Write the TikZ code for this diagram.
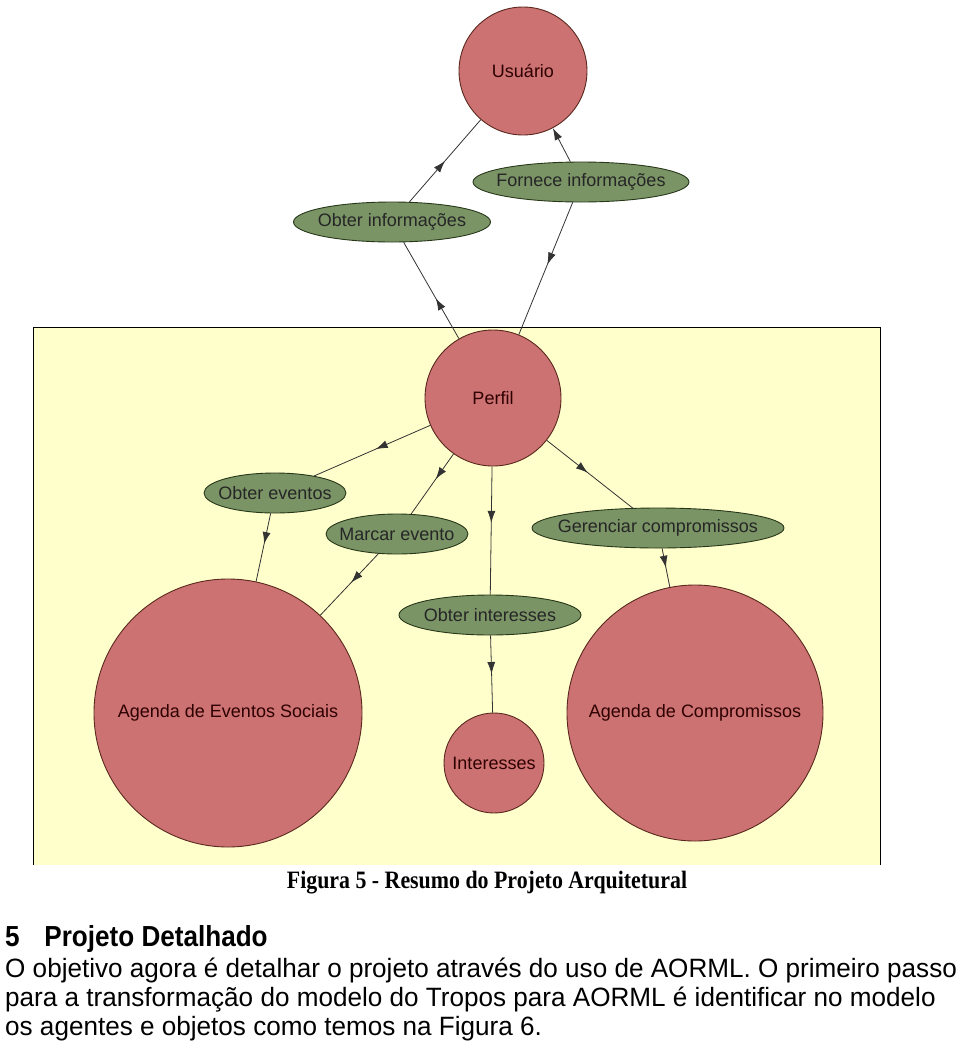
\documentclass[tikz,border=0pt]{standalone}
\usepackage{fontspec}
\usepackage{xcolor}
\usepackage{tikz}
\usetikzlibrary{positioning, arrows.meta, shapes.geometric, decorations.markings}

\setmainfont{Liberation Sans}
\newfontfamily\diagfont{Liberation Sans}
\newfontfamily\titlefont[FakeStretch=0.9]{Liberation Sans}
\newfontfamily\bodyfont[FakeStretch=0.985]{Liberation Sans}
\newfontfamily\capfont[FakeStretch=0.875]{Liberation Serif}

\definecolor{fundo}{RGB}{255,255,204}
\definecolor{ator}{RGB}{205,114,114}
\definecolor{atorborda}{RGB}{90,40,30}
\definecolor{tarefa}{RGB}{122,148,102}
\definecolor{tarefaborda}{RGB}{40,55,25}

\begin{document}
\begin{tikzpicture}[
    x=1pt, y=-1pt,
    font=\diagfont\fontsize{18}{20}\selectfont,
    agente/.style={circle, draw=atorborda, line width=0.9pt, fill=ator, inner sep=0pt, text=black!70!red!60!black},
    tarefabox/.style={ellipse, draw=tarefaborda, line width=0.9pt, fill=tarefa, inner xsep=-40pt, inner ysep=0pt, minimum height=40pt, text=black!85},
    link/.style={draw=black!80, line width=0.8pt, postaction={decorate},
        decoration={markings, mark=at position #1 with {\arrow{Latex[length=12pt,width=8pt]}}}},
    link/.default=0.5
]
\useasboundingbox (0,0) rectangle (960,1045);

% Fundo amarelo
\fill[fundo] (33,327) rectangle (880,865);
\draw[line width=1pt] (33,865) -- (33,327) -- (880,327) -- (880,865);

% Atores (circulos)
\node[agente, minimum size=128pt] (usuario) at (523,71) {Usuário};
\node[agente, minimum size=136pt] (perfil) at (493,398) {Perfil};
\node[agente, minimum size=268pt] (agendaEv) at (228,713) {Agenda de Eventos Sociais};
\node[agente, minimum size=100pt] (interesses) at (494,763) {Interesses};
\node[agente, minimum size=256pt] (agendaComp) at (695,713) {Agenda de Compromissos};

% Tarefas (elipses)
\node[tarefabox, minimum width=197pt] (obterInf) at (392,222) {Obter informações};
\node[tarefabox, minimum width=216pt] (fornInf) at (581,182) {Fornece informações};
\node[tarefabox, minimum width=142pt] (obterEv) at (275,493) {Obter eventos};
\node[tarefabox, minimum width=142pt] (marcarEv) at (397,534) {Marcar evento};
\node[tarefabox, minimum width=182pt] (obterInt) at (490,615) {Obter interesses};
\node[tarefabox, minimum width=252pt] (gerComp) at (658,528) {Gerenciar compromissos};

% Ligacoes
\path[link=0.42] (perfil) -- (obterInf);
\path[link] (obterInf) -- (usuario);
\draw[draw=black!80, line width=0.8pt, -{Latex[length=12pt,width=8pt]}] (fornInf) -- (usuario);
\path[link=0.47] (fornInf) -- (perfil);
\path[link=0.47] (perfil) -- (obterEv);
\path[link=0.45] (obterEv) -- (agendaEv);
\path[link=0.42] (perfil) -- (marcarEv);
\path[link=0.47] (marcarEv) -- (agendaEv);
\path[link=0.44] (perfil) -- (obterInt);
\path[link] (obterInt) -- (interesses);
\path[link=0.48] (perfil) -- (gerComp);
\path[link] (gerComp) -- (agendaComp);

% Legenda e texto
\node[anchor=base, font=\capfont\bfseries\fontsize{25}{28}\selectfont] (legenda) at (487,888) {Figura 5 - Resumo do Projeto Arquitetural};
\node[anchor=base west, inner sep=0pt, font=\titlefont\bfseries\fontsize{29}{32}\selectfont] (titulo) at (5,946) {5\hskip 0.85em Projeto Detalhado};
\node[anchor=base west, inner sep=0pt, font=\bodyfont\fontsize{26.5}{30}\selectfont] (linha1) at (5,977) {O objetivo agora é detalhar o projeto através do uso de AORML. O primeiro passo};
\node[anchor=base west, inner sep=0pt, font=\bodyfont\fontsize{26.5}{30}\selectfont] (linha2) at (5,1006) {para a transformação do modelo do Tropos para AORML é identificar no modelo};
\node[anchor=base west, inner sep=0pt, font=\bodyfont\fontsize{26.5}{30}\selectfont] (linha3) at (5,1035) {os agentes e objetos como temos na Figura 6.};
\end{tikzpicture}
\end{document}
